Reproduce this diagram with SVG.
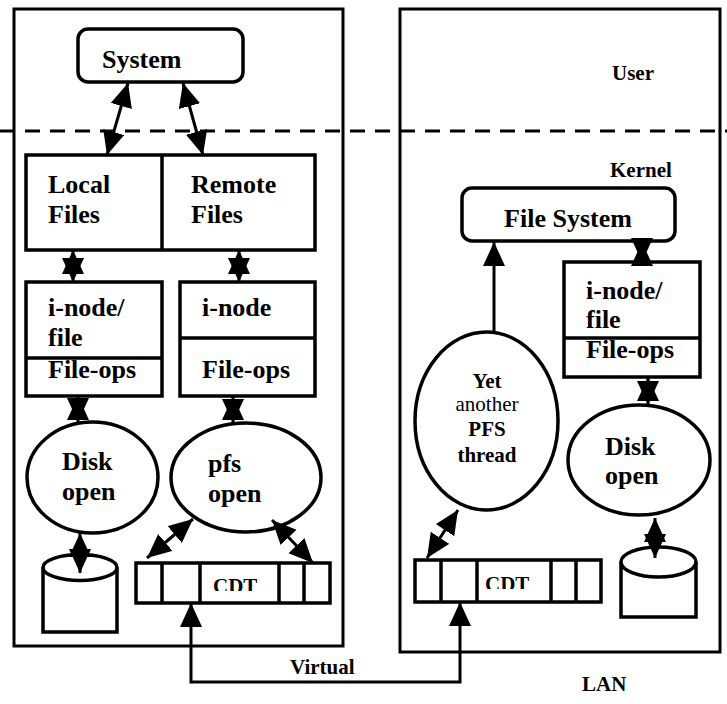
<svg xmlns="http://www.w3.org/2000/svg" width="727" height="704" viewBox="0 0 727 704">
  <style>
    .frame { fill: none; stroke: #000; stroke-width: 3; }
    .box { fill: #fff; stroke: #000; stroke-width: 3.5; }
    .sep { fill: none; stroke: #000; stroke-width: 3.5; }
    .lbl { font-family: "Liberation Serif", "Times New Roman", serif; font-weight: bold; font-size: 26px; fill: #000; }
    .sm { font-family: "Liberation Serif", "Times New Roman", serif; font-weight: bold; font-size: 21px; fill: #000; }
    .reg { font-weight: normal; }
    .mid { text-anchor: middle; }
    .link { fill: none; stroke: #000; stroke-width: 3; marker-start: url(#head); marker-end: url(#head); }
    .up { fill: none; stroke: #000; stroke-width: 3; marker-end: url(#head); }
  </style>
  <defs>
    <marker id="head" markerUnits="userSpaceOnUse" markerWidth="26" markerHeight="24" refX="24" refY="11" orient="auto-start-reverse">
      <path d="M0,0 L24,11 L0,22 Z" fill="#000"/>
    </marker>
    <clipPath id="cdtL"><rect x="136" y="560" width="194" height="31"/></clipPath>
    <clipPath id="cdtR"><rect x="415" y="558" width="186" height="31"/></clipPath>
  </defs>

  <!-- host frames and the user/kernel boundary -->
  <g id="frames">
    <rect class="frame" x="14" y="9" width="329" height="637"/>
    <rect class="frame" x="400" y="9" width="320" height="643"/>
    <line x1="0" y1="131" x2="727" y2="131" stroke="#000" stroke-width="3" stroke-dasharray="15 10"/>
    <text class="sm" x="612" y="80">User</text>
    <text class="sm" x="610" y="177">Kernel</text>
  </g>

  <!-- left host -->
  <g id="system">
    <rect class="box" x="78" y="29" width="165" height="53" rx="10"/>
    <text class="lbl" x="102" y="68">System</text>
  </g>
  <g id="files">
    <rect class="box" x="26" y="155" width="289" height="95"/>
    <line class="sep" x1="162" y1="155" x2="162" y2="250"/>
    <text class="lbl" x="48" y="193">Local</text>
    <text class="lbl" x="48" y="223">Files</text>
    <text class="lbl" x="191" y="193">Remote</text>
    <text class="lbl" x="191" y="223">Files</text>
  </g>
  <g id="local-inode">
    <rect class="box" x="26" y="282" width="136" height="114"/>
    <line class="sep" x1="26" y1="358" x2="162" y2="358"/>
    <text class="lbl" x="48" y="316">i-node/</text>
    <text class="lbl" x="48" y="346">file</text>
    <text class="lbl" x="48" y="378">File-ops</text>
  </g>
  <g id="remote-inode">
    <rect class="box" x="180" y="282" width="135" height="114"/>
    <line class="sep" x1="180" y1="338" x2="315" y2="338"/>
    <text class="lbl" x="202" y="316">i-node</text>
    <text class="lbl" x="202" y="378">File-ops</text>
  </g>
  <g id="disk-open-left">
    <ellipse class="box" cx="92.5" cy="477.5" rx="65.5" ry="55.5"/>
    <text class="lbl" x="62" y="470">Disk</text>
    <text class="lbl" x="62" y="500">open</text>
  </g>
  <g id="pfs-open">
    <ellipse class="box" cx="246" cy="477.5" rx="75" ry="54.5"/>
    <text class="lbl" x="208" y="472">pfs</text>
    <text class="lbl" x="208" y="502">open</text>
  </g>
  <g id="disk-left">
    <path class="box" d="M43,567.5 V632 H117 V567.5"/>
    <ellipse class="box" cx="80" cy="567.5" rx="37" ry="13"/>
  </g>
  <g id="cdt-left">
    <rect class="box" x="136" y="563" width="194" height="40"/>
    <path class="sep" d="M162,563 V603 M200,563 V603 M279,563 V603 M304,563 V603"/>
    <text class="sm" x="213" y="593" clip-path="url(#cdtL)">CDT</text>
  </g>

  <!-- right host -->
  <g id="file-system">
    <rect class="box" x="462" y="188" width="213" height="53" rx="10"/>
    <text class="lbl mid" x="568" y="227">File System</text>
  </g>
  <g id="pfs-thread">
    <ellipse class="box" cx="486.5" cy="421" rx="71.5" ry="89"/>
    <text class="sm mid" x="487" y="388">Yet</text>
    <text class="sm mid reg" x="487" y="411">another</text>
    <text class="sm mid" x="487" y="436">PFS</text>
    <text class="sm mid" x="487" y="462">thread</text>
  </g>
  <g id="right-inode">
    <rect class="box" x="564" y="262" width="136" height="115"/>
    <line class="sep" x1="564" y1="338" x2="700" y2="338"/>
    <text class="lbl" x="586" y="299">i-node/</text>
    <text class="lbl" x="586" y="328">file</text>
    <text class="lbl" x="586" y="358">File-ops</text>
  </g>
  <g id="disk-open-right">
    <ellipse class="box" cx="639" cy="460" rx="71" ry="55"/>
    <text class="lbl" x="605" y="455">Disk</text>
    <text class="lbl" x="605" y="484">open</text>
  </g>
  <g id="disk-right">
    <path class="box" d="M621,562 V617 H696 V562"/>
    <ellipse class="box" cx="658.5" cy="562" rx="37.5" ry="15"/>
  </g>
  <g id="cdt-right">
    <rect class="box" x="415" y="560" width="186" height="42"/>
    <path class="sep" d="M441,560 V602 M477,560 V602 M551,560 V602 M576,560 V602"/>
    <text class="sm" x="485" y="591" clip-path="url(#cdtR)">CDT</text>
  </g>

  <!-- connectors, drawn over the nodes -->
  <g id="connectors">
    <line class="link" x1="128" y1="83" x2="107" y2="155"/>
    <line class="link" x1="183" y1="83" x2="203" y2="155"/>
    <line class="link" x1="73" y1="250" x2="73" y2="282"/>
    <line class="link" x1="239" y1="250" x2="239" y2="282"/>
    <line class="link" x1="78" y1="396" x2="78" y2="422"/>
    <line class="link" x1="233" y1="396" x2="233" y2="423"/>
    <line class="link" x1="80" y1="533" x2="80" y2="573"/>
    <line class="link" x1="193" y1="519" x2="147" y2="558"/>
    <line class="link" x1="272" y1="520" x2="313" y2="563"/>
    <line class="up" x1="494" y1="332" x2="494" y2="242"/>
    <line class="link" x1="642" y1="242" x2="642" y2="262"/>
    <line class="link" x1="648" y1="377" x2="648" y2="405"/>
    <line class="link" x1="655" y1="518" x2="655" y2="558"/>
    <line class="link" x1="458" y1="510" x2="427" y2="558"/>
    <path class="link" d="M191,603 V682 H460 V602"/>
    <text class="sm" x="290" y="674">Virtual</text>
    <text class="sm" x="582" y="691">LAN</text>
  </g>
</svg>
